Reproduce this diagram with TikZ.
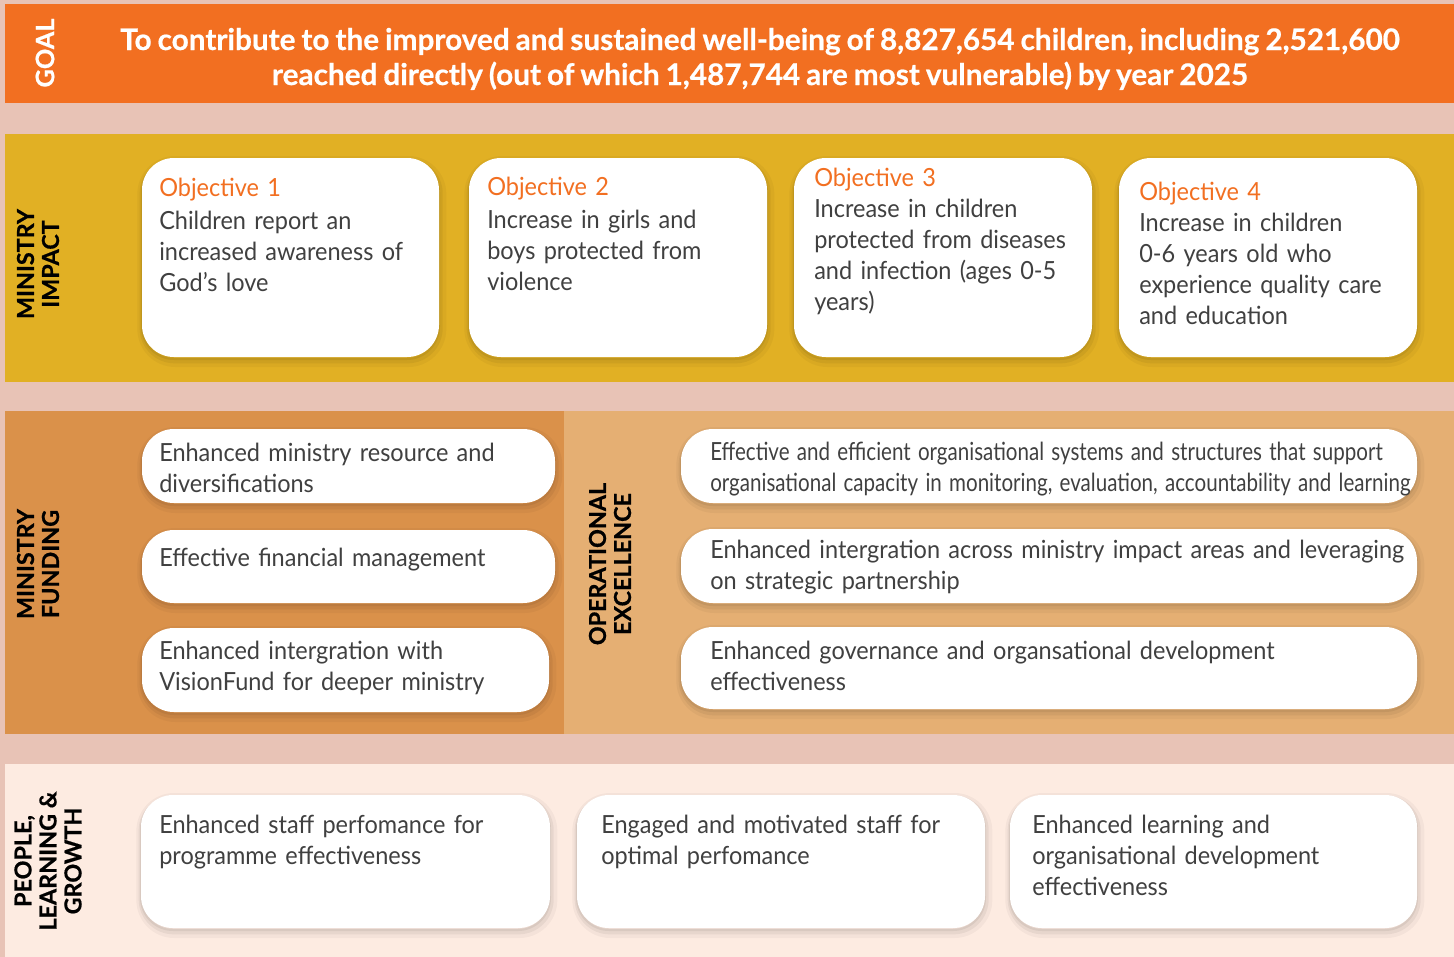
\documentclass[tikz,border=0pt]{standalone}
\usepackage{fontspec}
\setmainfont{Lato}
\newfontfamily\bodyfont{Lato}[FakeStretch=0.94]
\newfontfamily\heavyfont{Lato}[BoldFeatures={FakeBold=0.6}]
\usetikzlibrary{fit}
\definecolor{pagebg}{HTML}{E8C3B6}
\definecolor{goalc}{HTML}{F26F21}
\definecolor{goldc}{HTML}{E1B024}
\definecolor{fundc}{HTML}{DA914A}
\definecolor{opsc}{HTML}{E5AF73}
\definecolor{peoplec}{HTML}{FDEBE1}
\definecolor{objc}{HTML}{F26F21}
\definecolor{bodyc}{HTML}{404040}
\begin{document}
\begin{tikzpicture}[x=0.75pt,y=-0.75pt,
  card/.style={rectangle, rounded corners=24pt, fill=white, inner sep=0pt,
    preaction={draw=black, opacity=0.035, line width=9pt, transform canvas={xshift=1pt,yshift=-3pt}},
    preaction={draw=black, opacity=0.05, line width=4.5pt, transform canvas={xshift=0.5pt,yshift=-2.5pt}},
    preaction={draw=black, opacity=0.06, line width=1.5pt, transform canvas={yshift=-1.5pt}}},
  body/.style={anchor=base west, inner sep=0pt, align=left, text width=560pt,
    font=\bodyfont\fontsize{18.75}{23.25}\selectfont, text=bodyc},
  lab/.style={rotate=90, inner sep=0pt, align=center,
    font=\heavyfont\bfseries\fontsize{17.5}{18.75}\selectfont, text=black},
  goaltext/.style={anchor=base, inner sep=0pt, align=center, text width=1060pt,
    font=\heavyfont\bfseries\fontsize{22.3}{26.25}\selectfont, text=white}
]
% page and bands
\path[use as bounding box, fill=pagebg] (0,0) rectangle (1454,957);
\fill[goalc] (5,4) rectangle (1454,103);
\fill[goldc] (5,134) rectangle (1454,382);
\fill[fundc] (5,411) rectangle (564,734);
\fill[opsc] (564,411) rectangle (1454,734);
\fill[peoplec] (5,764) rectangle (1454,957);

% goal
\node[lab, text=white, font=\heavyfont\bfseries\fontsize{19}{20}\selectfont] (lgoal) at (45,53) {GOAL};
\node[goaltext] (goal) at (760,50) {\spaceskip=0.2em\relax To contribute to the improved and sustained well-being of 8,827,654 children, including 2,521,600\\ reached directly (out of which 1,487,744 are most vulnerable) by year 2025};

% ministry impact
\node[lab] (limpact) at (38,264) {MINISTRY\\IMPACT};
\node[card, fit={(142,158) (439,357)}] (o1) {};
\node[card, fit={(469,158) (767,357)}] (o2) {};
\node[card, fit={(794,158) (1092,357)}] (o3) {};
\node[card, fit={(1119,158) (1417,357)}] (o4) {};
\node[body] (o1t) at (159,196) {\textcolor{objc}{Objective 1}\\[1.5pt]Children report an\\increased awareness of\\God’s love};
\node[body] (o2t) at (487,195) {\textcolor{objc}{Objective 2}\\[1.5pt]Increase in girls and\\boys protected from\\violence};
\node[body] (o3t) at (814,186) {\textcolor{objc}{Objective 3}\\Increase in children\\protected from diseases\\and infection (ages 0-5\\years)};
\node[body] (o4t) at (1139,200) {\textcolor{objc}{Objective 4}\\Increase in children\\0-6 years old who\\experience quality care\\and education};

% ministry funding
\node[lab] (lfund) at (38,564) {MINISTRY\\FUNDING};
\node[card, fit={(142,429) (555,503)}] (f1) {};
\node[card, fit={(142,530) (555,603)}] (f2) {};
\node[card, fit={(142,628) (549,712)}] (f3) {};
\node[body] (f1t) at (159,461) {Enhanced ministry resource and\\diversifications};
\node[body] (f2t) at (159,566) {Effective financial management};
\node[body] (f3t) at (159,659) {Enhanced intergration with\\VisionFund for deeper ministry};

% operational excellence
\node[lab] (lops) at (610,564) {OPERATIONAL\\EXCELLENCE};
\node[card, fit={(681,429) (1417,503)}] (e1) {};
\node[card, fit={(681,529) (1417,603)}] (e2) {};
\node[card, fit={(681,627) (1417,709)}] (e3) {};
\node[body] (e1t) at (710,460) {\scalebox{0.875}[1]{Effective and efficient organisational systems and structures that support}\\\scalebox{0.875}[1]{organisational capacity in monitoring, evaluation, accountability and learning}};
\node[body] (e2t) at (710,558) {Enhanced intergration across ministry impact areas and leveraging\\on strategic partnership};
\node[body] (e3t) at (710,659) {Enhanced governance and organsational development\\effectiveness};

% people, learning & growth
\node[lab] (lpeople) at (48,861) {PEOPLE,\\LEARNING \&\\GROWTH};
\node[card, fit={(141,795) (550,928)}] (p1) {};
\node[card, fit={(577,795) (985,928)}] (p2) {};
\node[card, fit={(1010,795) (1417,928)}] (p3) {};
\node[body] (p1t) at (159,833) {Enhanced staff perfomance for\\programme effectiveness};
\node[body] (p2t) at (601,833) {Engaged and motivated staff for\\optimal perfomance};
\node[body] (p3t) at (1032,833) {Enhanced learning and\\organisational development\\effectiveness};
\end{tikzpicture}
\end{document}
